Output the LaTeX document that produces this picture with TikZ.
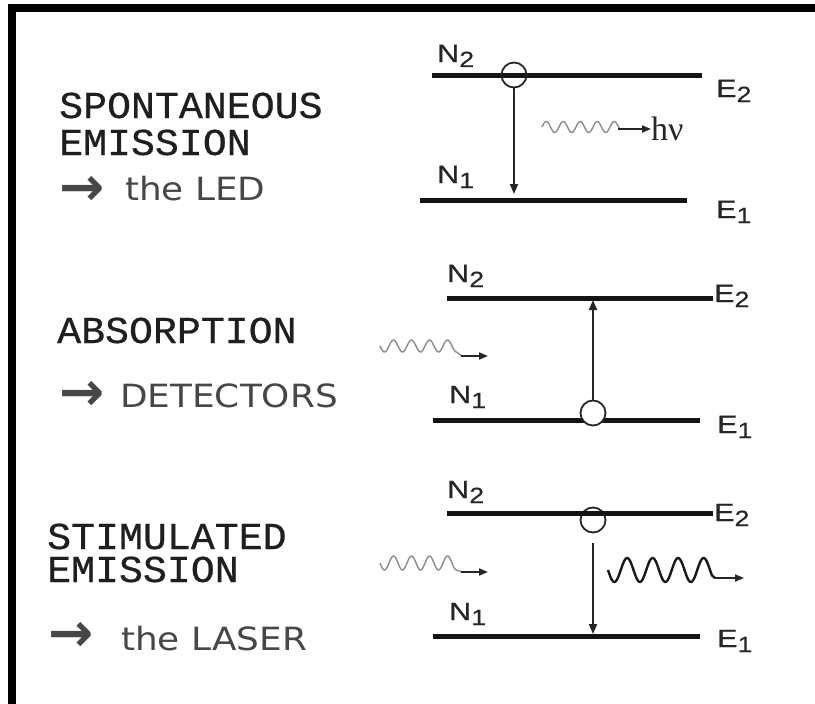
\documentclass[tikz,border=0pt]{standalone}
\usepackage{fontspec}
\setmainfont{Liberation Sans}
\newfontfamily\lblfnt[FakeStretch=1.22,FakeBold=0.4]{Liberation Sans}
\newfontfamily\monofnt[FakeBold=0.6,FakeStretch=1.05]{Liberation Mono}
\newfontfamily\comicfnt[FakeStretch=1.12]{DejaVu Sans}
\newfontfamily\arrowfnt{DejaVu Sans}
\newfontfamily\seriffnt{Liberation Serif}
\usetikzlibrary{arrows.meta}
\tikzset{
  level/.style={line width=5pt, draw=black!92},
  trans/.style={line width=1.8pt, draw=black!85, -{Triangle[length=10pt,width=8pt]}},
  atom/.style={circle, draw=black!85, line width=1.8pt, minimum size=25pt, inner sep=0pt},
  lbl/.style={font=\lblfnt\fontsize{25}{25}\selectfont, anchor=base west, inner sep=0pt, text=black!85},
  ttl/.style={font=\monofnt\fontsize{38}{38}\selectfont, anchor=base west, inner sep=0pt, text=black!88},
  subt/.style={font=\comicfnt\fontsize{32}{32}\selectfont, anchor=base west, inner sep=0pt, text=black!72},
  bigarrow/.style={font=\arrowfnt\bfseries\fontsize{54}{54}\selectfont, anchor=center, inner sep=0pt, text=black!72},
  wavein/.style={draw=black!45, line width=1.4pt},
  waveout/.style={draw=black!90, line width=2.4pt},
  photon/.style={line width=1.8pt, draw=black!85, -{Triangle[length=9pt,width=7pt]}},
}
\newcommand{\lev}[2]{#1\raisebox{-5pt}{\fontsize{22}{22}\selectfont #2}}
\begin{document}
\begin{tikzpicture}[x=1pt,y=-1pt]
\useasboundingbox (0,0) rectangle (815,704);
\fill[white] (0,0) rectangle (815,704);
\draw[line width=8pt] (12,8) rectangle (900,708);

% ---------------- left texts
\node[ttl] (t1a) at (59,118) {SPONTANEOUS};
\node[ttl] (t1b) at (59,155) {EMISSION};
\node[bigarrow] (a1) at (82,191) {→};
\node[subt] (s1) at (125,200) {the LED};

\node[ttl] (t2a) at (57,343) {ABSORPTION};
\node[bigarrow] (a2) at (82,396) {→};
\node[subt] (s2) at (120,407) {DETECTORS};

\node[ttl] (t3a) at (47,549) {STIMULATED};
\node[ttl] (t3b) at (47,582) {EMISSION};
\node[bigarrow] (a3) at (71,637) {→};
\node[subt] (s3) at (121,650) {the LASER};

% ---------------- panel 1: spontaneous emission
\coordinate (u1a) at (432,75);  \coordinate (u1b) at (702,75);
\coordinate (l1a) at (420,200); \coordinate (l1b) at (687,200);
\draw[level] (u1a) -- (u1b);
\draw[level] (l1a) -- (l1b);
\node[atom] (c1) at (514,75) {};
\coordinate (e1) at (514,194);
\draw[trans] (c1.south) -- (e1);
\node[lbl] (n12) at (437,62) {\lev{N}{2}};
\node[lbl] (n11) at (437,183) {\lev{N}{1}};
\node[lbl] (e12) at (716,97) {\lev{E}{2}};
\node[lbl] (e11) at (716,218) {\lev{E}{1}};
\draw[wavein] plot[domain=0:4.5, samples=150] ({542+17*\x},{127-5.5*sin(360*\x)});
\coordinate (w1s) at (618,129); \coordinate (w1e) at (651,129);
\draw[wavein] (618.5,127) .. controls (620,129) .. (w1s);
\draw[photon] (w1s) -- (w1e);
\node[font=\seriffnt\fontsize{34}{34}\selectfont, anchor=base west, inner sep=0pt, text=black!85] (hv) at (651,140) {hν};

% ---------------- panel 2: absorption
\coordinate (u2a) at (447,298); \coordinate (u2b) at (713,298);
\coordinate (l2a) at (433,420); \coordinate (l2b) at (700,420);
\draw[level] (u2a) -- (u2b);
\draw[level] (l2a) -- (l2b);
\node[atom, fill=white] (c2) at (593,413) {};
\coordinate (e2) at (593,300);
\draw[trans] (c2.north) -- (e2);
\node[lbl] (n22) at (447,282) {\lev{N}{2}};
\node[lbl] (n21) at (449,403) {\lev{N}{1}};
\node[lbl] (e22) at (714,302) {\lev{E}{2}};
\node[lbl] (e21) at (717,433) {\lev{E}{1}};
\draw[wavein] plot[domain=0:4.25, samples=150] ({380+18*\x},{346+6*sin(360*\x)}) .. controls (459,354) .. (462,356);
\coordinate (w2s) at (461,356); \coordinate (w2e) at (488,356);
\draw[photon] (w2s) -- (w2e);

% ---------------- panel 3: stimulated emission
\coordinate (u3a) at (447,513); \coordinate (u3b) at (713,513);
\coordinate (l3a) at (433,636); \coordinate (l3b) at (700,636);
\node[atom, fill=white] (c3) at (593,520) {};
\draw[level] (u3a) -- (u3b);
\draw[level] (l3a) -- (l3b);
\coordinate (s3s) at (593,543); \coordinate (s3e) at (593,634);
\draw[trans] (s3s) -- (s3e);
\node[lbl] (n32) at (447,498) {\lev{N}{2}};
\node[lbl] (n31) at (449,620) {\lev{N}{1}};
\node[lbl] (e32) at (714,521) {\lev{E}{2}};
\node[lbl] (e31) at (717,647) {\lev{E}{1}};
\draw[wavein] plot[domain=0:4.25, samples=150] ({380+18*\x},{563+7*sin(360*\x)}) .. controls (459,571) .. (462,572);
\coordinate (w3s) at (461,572); \coordinate (w3e) at (488,572);
\draw[photon] (w3s) -- (w3e);
\draw[waveout] plot[domain=0:4, samples=200] ({608+25.5*\x},{570+12*sin(360*\x)}) .. controls (712,576) .. (715,578);
\coordinate (w4s) at (714,578); \coordinate (w4e) at (744,578);
\draw[photon] (w4s) -- (w4e);
\end{tikzpicture}
\end{document}
